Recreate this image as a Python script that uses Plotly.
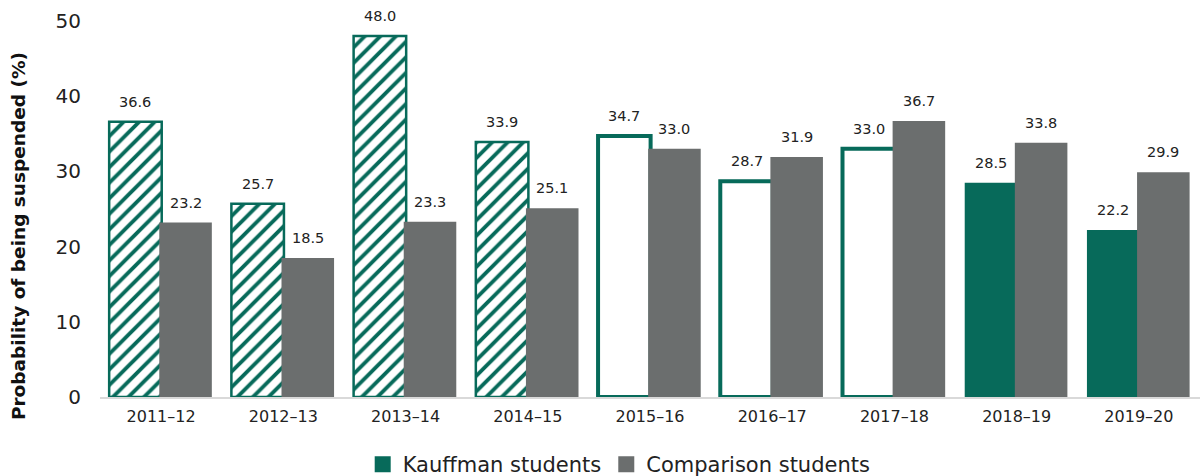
import plotly.graph_objects as go

years = ["2011\u201312", "2012\u201313", "2013\u201314", "2014\u201315", "2015\u201316",
         "2016\u201317", "2017\u201318", "2018\u201319", "2019\u201320"]
kauffman = [36.6, 25.7, 48.0, 33.9, 34.7, 28.7, 33.0, 28.5, 22.2]
comparison = [23.2, 18.5, 23.3, 25.1, 33.0, 31.9, 36.7, 33.8, 29.9]
# style group per year for Kauffman bars
k_style = ["hatch", "hatch", "hatch", "hatch", "outline", "outline", "outline", "solid", "solid"]

GREEN = "#076a5a"
GRAY = "#6b6e6e"
FONT = "Verdana, DejaVu Sans, sans-serif"
BAR_W = 0.43
K_OFF = -0.425
C_OFF = -0.015

fig = go.Figure()

def subset(style):
    idx = [i for i, s in enumerate(k_style) if s == style]
    return [years[i] for i in idx], [kauffman[i] for i in idx]

kw = dict(width=BAR_W, offset=K_OFF, hoverinfo="x+y", showlegend=False)

x, y = subset("hatch")
fig.add_trace(go.Bar(x=x, y=y, name="Kauffman students",
                     marker=dict(color="white", line=dict(color=GREEN, width=2.5),
                                 pattern=dict(shape="/", fgcolor=GREEN, bgcolor="white",
                                              size=11, solidity=0.35, fillmode="replace")),
                     **kw))
x, y = subset("outline")
fig.add_trace(go.Bar(x=x, y=y, name="Kauffman students",
                     marker=dict(color="white", line=dict(color=GREEN, width=4)), **kw))
x, y = subset("solid")
fig.add_trace(go.Bar(x=x, y=y, name="Kauffman students",
                     marker=dict(color=GREEN, line=dict(color=GREEN, width=0)), **kw))

fig.add_trace(go.Bar(x=years, y=comparison, name="Comparison students", showlegend=False,
                     width=BAR_W, offset=C_OFF, hoverinfo="x+y",
                     marker=dict(color=GRAY, line=dict(width=0))))

# legend entries with larger square swatches
for name, col in (("Kauffman students", GREEN), ("Comparison students", GRAY)):
    fig.add_trace(go.Scatter(x=[None], y=[None], mode="markers", name=name,
                             marker=dict(symbol="square", size=16, color=col),
                             showlegend=True, hoverinfo="skip"))

# value labels above bars
CAT_PX = 1100 / len(years)
annotations = []
for series, off in ((kauffman, K_OFF), (comparison, C_OFF)):
    for yr, v in zip(years, series):
        annotations.append(dict(x=yr, y=v, text=f"{v:.1f}", showarrow=False,
                                xshift=(off + BAR_W / 2) * CAT_PX, yshift=10,
                                yanchor="bottom", xanchor="center",
                                font=dict(size=14.5, family=FONT, color="#222222")))
annotations.append(dict(text="<b>Probability of being suspended (%)</b>", textangle=-90,
                        xref="paper", yref="paper", x=-82 / 1100, y=0.428,
                        xanchor="center", yanchor="middle", showarrow=False,
                        font=dict(size=18.5, family=FONT, color="#111111")))

fig.update_layout(
    width=1202, height=476,
    barmode="overlay",
    plot_bgcolor="white", paper_bgcolor="white",
    margin=dict(l=100, r=2, t=21, b=79, autoexpand=False),
    font=dict(family=FONT, color="#222222"),
    showlegend=True,
    annotations=annotations,
    legend=dict(orientation="h", x=0.472, xanchor="center", yref="container", y=0.024,
                yanchor="middle",
                font=dict(size=21, family=FONT, color="#222222"),
                itemwidth=30, tracegroupgap=0),
    xaxis=dict(categoryorder="array", categoryarray=years, showline=True, linecolor="#d9d9d9",
               linewidth=2, ticks="outside", ticklen=4, tickcolor="rgba(0,0,0,0)",
               tickfont=dict(size=16, family=FONT, color="#222222"),
               showgrid=False, zeroline=False),
    yaxis=dict(range=[0, 50], dtick=10, showgrid=False, zeroline=False, showline=False,
               tickfont=dict(size=20, family=FONT, color="#222222"), ticklen=14,
               ticks="outside", tickcolor="rgba(0,0,0,0)"),
)

fig.write_html("out.html")
